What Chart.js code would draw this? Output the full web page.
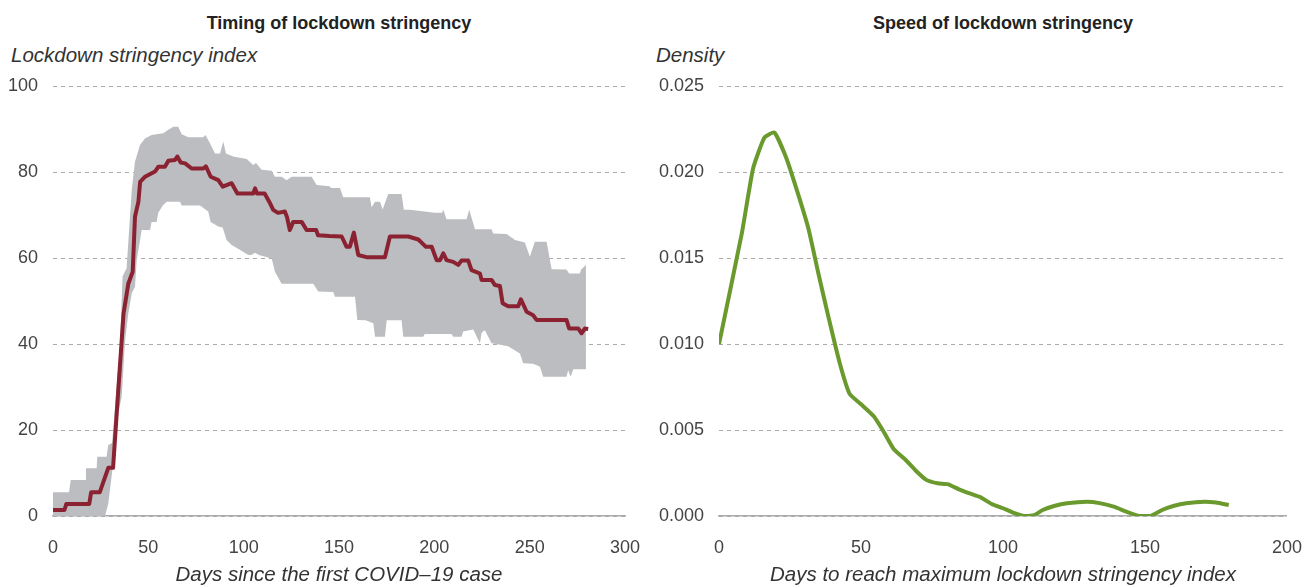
<!DOCTYPE html>
<html>
<head>
<meta charset="utf-8">
<script src="https://cdn.jsdelivr.net/npm/chart.js@4"></script>
<style>
  html, body { margin: 0; padding: 0; background: #fff; }
  body { width: 1307px; height: 586px; position: relative; overflow: hidden; font-family: "Liberation Sans", Arial, sans-serif; }
  canvas { position: absolute; top: 0; }
  .title { position: absolute; top: 13px; font-weight: bold; font-size: 18px; color: #222; transform: translateX(-50%); white-space: nowrap; }
  .ylabel { position: absolute; top: 43px; font-style: italic; font-size: 20.5px; color: #333; white-space: nowrap; }
</style>
</head>
<body>
<div class="title" style="left:339px">Timing of lockdown stringency</div>
<div class="title" style="left:1003px">Speed of lockdown stringency</div>
<div class="ylabel" style="left:11px">Lockdown stringency index</div>
<div class="ylabel" style="left:656px">Density</div>
<canvas id="timingChart" width="650" height="586" style="left:0"></canvas>
<canvas id="speedChart" width="657" height="586" style="left:650px"></canvas>
<script>
// Left panel: median stringency index and its band, by days since first case
const medianDays = [0, 6, 7, 19, 20, 24.5, 29, 31.5, 34, 37, 39.5, 41.8, 43, 44.8, 45.7, 48.3, 50, 53.5, 55.2, 58.7, 60.5, 64, 65.2, 67, 69.3, 72.7, 78.8, 80.2, 82.7, 86.7, 89, 93.7, 96.7, 105, 106, 107, 111, 113.4, 115.5, 118, 121.6, 122.8, 124.2, 126, 130.4, 133, 138, 139, 145, 151.4, 154, 155.7, 157.8, 160.1, 164.4, 174.1, 176.7, 186.3, 191.6, 195.6, 198.6, 201.2, 203, 204.7, 206.4, 209.9, 212.5, 214.3, 217.8, 219.5, 223.9, 224.8, 230, 231.8, 234.4, 235.8, 238.7, 244, 245.4, 248.4, 251.8, 253.6, 269.3, 270.7, 275.5, 277.2, 279, 280.7];
const medianIndex = [1.4, 1.4, 2.8, 2.8, 5.5, 5.5, 11.2, 11.2, 27.7, 47.1, 54, 56.8, 69.6, 73.1, 77.7, 78.9, 79.3, 80.1, 81.2, 81.2, 82.6, 82.8, 83.6, 82.2, 82, 80.8, 80.8, 81.3, 78.9, 78.1, 76.6, 77.4, 75, 75, 76.2, 75, 75, 73.1, 71.2, 70.5, 70.8, 69.4, 66.5, 68.4, 68.4, 66.5, 66.5, 65.3, 65.1, 65, 62.6, 62.6, 65.9, 60.7, 60.2, 60.2, 65, 65, 64.3, 62.6, 62.6, 59.5, 59.5, 61.1, 59.5, 59.1, 58.4, 59.4, 59.4, 57.2, 56.4, 54.9, 54.9, 53.7, 53.5, 49.5, 48.8, 48.8, 50.4, 47.5, 46.7, 45.6, 45.6, 43.6, 43.6, 42.5, 43.6, 43.5];

const upperDays = [0, 8.4, 9.3, 16.8, 17.3, 22.9, 23.2, 28.1, 29, 31, 35.1, 36.5, 38.6, 41.3, 43, 45.6, 48.2, 51.7, 57.8, 60.5, 63.1, 65.7, 67.5, 71, 78.8, 80, 82.3, 85, 87.6, 89.3, 90.7, 94.5, 101.6, 105, 106.5, 109.4, 114.7, 116.4, 120, 122.5, 125.1, 135.6, 138.3, 145, 146, 150.5, 152.2, 166.2, 167.1, 168.9, 171.5, 172.9, 175.8, 182.8, 184, 187, 200.3, 204, 204.7, 206.4, 216.9, 218.3, 221.3, 230, 230.9, 237.9, 242.3, 247.5, 250.1, 252.7, 258.9, 261.5, 269.3, 270.7, 276.3, 277, 279.5];
const upperIndex = [5.5, 5.5, 8.4, 8.4, 11.1, 11.1, 13.8, 13.8, 16.5, 17, 39.4, 55.7, 57.6, 75.8, 82.4, 86.3, 87.8, 88.6, 89, 89.8, 90.5, 90.5, 88.8, 88.1, 88.1, 88.6, 86.7, 84.3, 84.3, 87.1, 84.3, 83.6, 83, 81.6, 82.1, 80.5, 80.3, 78.9, 78.9, 78.1, 78.9, 78.9, 77, 76.7, 76.3, 76.3, 74.1, 74.1, 71.8, 73.1, 73.1, 71.3, 74.9, 74.9, 71.2, 71.2, 70.5, 70.5, 71.2, 69, 69, 71.2, 66.7, 66.7, 65.7, 65.6, 64.2, 63.6, 60.3, 63.8, 63.8, 57.4, 57.3, 56.4, 56.4, 57.3, 58.4];

const lowerDays = [0, 27.3, 29, 31.6, 34.2, 36, 37.8, 39.5, 41.3, 43, 43.9, 46.5, 50.9, 51.7, 54.3, 55.2, 57.8, 59.6, 66.6, 67.5, 77.1, 81.4, 82.7, 86.7, 89, 91, 93.7, 98, 102.4, 104, 106, 108, 114.7, 116.4, 119.9, 136.5, 139.1, 147, 147.9, 158.4, 159.6, 164, 168, 168.9, 174.1, 175, 182.8, 183.7, 194.2, 195, 209, 209.9, 214.3, 215.1, 220.4, 223.9, 224.8, 226.5, 230, 234.4, 238.7, 244.9, 246.6, 251.8, 255.4, 257.1, 269.3, 270.2, 271.5, 272.9, 279.5];
const lowerIndex = [0, 0, 2.9, 12.3, 23.9, 27.7, 40.9, 47.1, 51.8, 53.3, 59.5, 66.5, 66.5, 68.4, 68.4, 70.5, 72.3, 73.1, 73.1, 72.2, 72.2, 70.8, 68.4, 67.3, 67.1, 64.2, 63, 61.9, 60.7, 60.7, 61.2, 60.7, 59.9, 56.8, 54, 54, 52.2, 52.1, 51, 51, 45.6, 45.5, 44.8, 41.7, 41.7, 45.5, 45.5, 41.7, 41.7, 42.3, 42.3, 41.7, 41.7, 42.9, 43.4, 40.2, 42.6, 43.2, 40.2, 39.8, 39.5, 37.8, 35.5, 35.4, 34.7, 32.4, 32.4, 33.9, 32.4, 34.1, 34.1];

// Right panel: density of days to reach maximum stringency
const speedDays = [0, 8, 12, 16, 19.5, 23.5, 27.5, 31.5, 35, 38.5, 42.5, 46, 50, 54.5, 58, 61.5, 65.5, 69.5, 73, 77, 80.5, 84.5, 88.5, 92, 96, 100, 103.5, 107.5, 111, 114, 118, 122.5, 129.5, 134, 139, 143.5, 148, 152, 156, 160, 164.5, 171, 175, 179.5];
const speedDensity = [0.0100, 0.0164, 0.0202, 0.0220, 0.0223, 0.0209, 0.0189, 0.0167, 0.0141, 0.0116, 0.0089, 0.0071, 0.0065, 0.0058, 0.0049, 0.0039, 0.0033, 0.0026, 0.0021, 0.0019, 0.00185, 0.00155, 0.0013, 0.0011, 0.0007, 0.00045, 0.0002, 0.0, 0.00005, 0.00035, 0.00058, 0.00074, 0.00083, 0.00075, 0.00054, 0.00025, 0.0, 0.0, 0.00035, 0.00058, 0.00074, 0.00083, 0.00078, 0.00064];

const timingTicks = [0, 50, 100, 150, 200, 250, 300];
const speedTicks = [0, 50, 100, 150, 200];

function toPoints(xs, ys) {
    return xs.map((x, i) => ({ x: x, y: ys[i] }));
}

const tickFont = { family: '"Liberation Sans", Arial, sans-serif', size: 18 };
const titleFont = { family: '"Liberation Sans", Arial, sans-serif', size: 20.5, style: 'italic', lineHeight: 1 };

function xScale(max, ticks, label) {
    return {
        type: 'linear',
        min: 0,
        max: max,
        afterBuildTicks: s => { s.ticks = ticks.map(v => ({ value: v })); },
        // grid hidden, but the tick length still pushes the labels down
        grid: { display: false, drawTicks: true, tickLength: 16 },
        border: { display: true, color: '#aaaaaa', width: 1.5 },
        ticks: { color: '#444', font: tickFont, padding: 5, maxRotation: 0 },
        title: { display: true, text: label, color: '#333', font: titleFont, padding: { top: 0, bottom: 0 } },
        afterFit: s => { s.height = 70; }
    };
}

function yScale(max, step, width, fmt) {
    return {
        min: 0,
        max: max,
        ticks: { stepSize: step, color: '#444', font: tickFont, padding: 15, callback: fmt },
        grid: { color: '#aaaaaa', lineWidth: 1, drawTicks: false },
        border: { display: false, dash: [4, 4] },
        afterFit: s => { s.width = width; }
    };
}

new Chart(document.getElementById('timingChart'), {
    type: 'line',
    data: {
        datasets: [
            {
                label: 'Lower',
                data: toPoints(lowerDays, lowerIndex),
                borderWidth: 0,
                pointRadius: 0,
                fill: false,
                order: 2
            },
            {
                label: 'Upper',
                data: toPoints(upperDays, upperIndex),
                borderWidth: 0,
                pointRadius: 0,
                backgroundColor: '#bcbdc0',
                fill: '-1',
                order: 1
            },
            {
                label: 'Median',
                data: toPoints(medianDays, medianIndex),
                borderColor: '#8b2232',
                borderWidth: 4,
                pointRadius: 0,
                borderJoinStyle: 'round',
                fill: false,
                order: 0
            }
        ]
    },
    options: {
        responsive: false,
        animation: false,
        layout: { padding: { top: 86, right: 25, left: 0, bottom: 0 } },
        plugins: { legend: { display: false }, tooltip: { enabled: false } },
        scales: {
            x: xScale(300, timingTicks, 'Days since the first COVID\u201319 case'),
            y: yScale(100, 20, 53, v => v)
        }
    }
});

new Chart(document.getElementById('speedChart'), {
    type: 'line',
    data: {
        datasets: [
            {
                label: 'Density',
                data: toPoints(speedDays, speedDensity),
                borderColor: '#6a9a2e',
                borderWidth: 4,
                pointRadius: 0,
                borderJoinStyle: 'round',
                tension: 0.15,
                fill: false
            }
        ]
    },
    options: {
        responsive: false,
        animation: false,
        layout: { padding: { top: 86, right: 20, left: 0, bottom: 0 } },
        plugins: { legend: { display: false }, tooltip: { enabled: false } },
        scales: {
            x: xScale(200, speedTicks, 'Days to reach maximum lockdown stringency index'),
            y: yScale(0.025, 0.005, 69, v => Number(v).toFixed(3))
        }
    }
});
</script>
</body>
</html>
